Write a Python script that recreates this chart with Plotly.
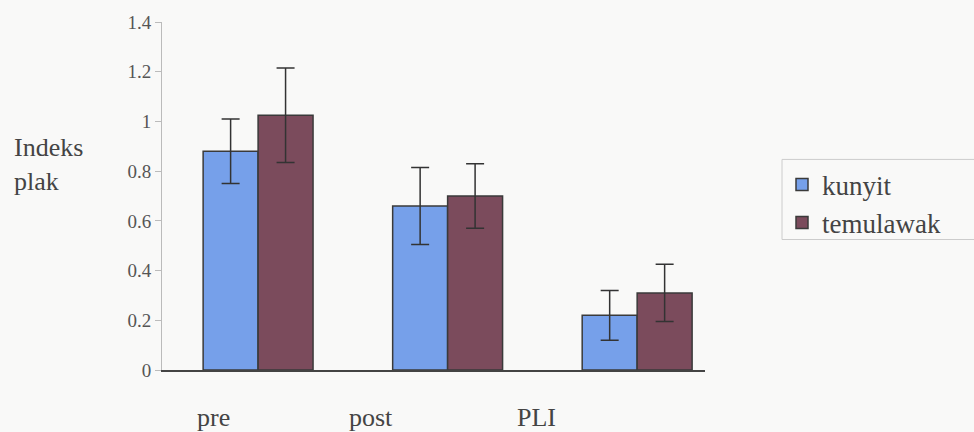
import plotly.graph_objects as go

categories = ["pre", "post", "PLI"]
kunyit = [0.88, 0.66, 0.22]
kunyit_err = [0.13, 0.155, 0.10]
temulawak = [1.025, 0.70, 0.31]
temulawak_err = [0.19, 0.13, 0.115]
y_ticks = [0, 0.2, 0.4, 0.6, 0.8, 1.0, 1.2, 1.4]
y_ticklabels = ["0", "0.2", "0.4", "0.6", "0.8", "1", "1.2", "1.4"]

FONT = "Liberation Serif"
W, H = 974, 432
L, R, T, B = 162, 269, 18, 62
pw = W - L - R
ph = H - T - B

def px_to_paper(px):
    return (px - L) / pw

def py_to_paper(py):
    return (H - B - py) / ph

label_px = [213, 371, 536]

fig = go.Figure()
fig.add_trace(go.Bar(
    name="kunyit", x=categories, y=kunyit,
    marker=dict(color="#76a0ea", line=dict(color="#3a3a3a", width=1.5)),
    error_y=dict(type="data", array=kunyit_err, color="#333333", thickness=1.5, width=9),
))
fig.add_trace(go.Bar(
    name="temulawak", x=categories, y=temulawak,
    marker=dict(color="#7b4b5c", line=dict(color="#3a3a3a", width=1.5)),
    error_y=dict(type="data", array=temulawak_err, color="#333333", thickness=1.5, width=9),
))

fig.update_layout(
    width=W, height=H,
    margin=dict(l=L, r=R, t=T, b=B),
    paper_bgcolor="#f9f9f8", plot_bgcolor="#f9f9f8",
    barmode="group", bargap=0.42, bargroupgap=0,
    font=dict(family=FONT, color="#444444"),
    showlegend=True,
    legend=dict(
        x=px_to_paper(782), y=py_to_paper(158), xanchor="left", yanchor="top",
        bgcolor="rgba(0,0,0,0)", borderwidth=0,
        font=dict(family=FONT, size=27, color="#444444"),
        tracegroupgap=0,
    ),
)
fig.add_shape(
    type="rect", xref="paper", yref="paper",
    x0=px_to_paper(782), x1=px_to_paper(980), y0=py_to_paper(238), y1=py_to_paper(157),
    line=dict(color="#cccccc", width=1), fillcolor="rgba(0,0,0,0)", layer="below",
)
fig.update_xaxes(
    range=[-0.507, 2.358], showticklabels=False, ticks="",
    showline=True, linecolor="#444444", linewidth=1.5, showgrid=False,
)
fig.update_yaxes(
    range=[0, 1.4], tickvals=y_ticks, ticktext=y_ticklabels,
    ticks="outside", ticklen=6, tickcolor="#bbbbbb",
    showline=True, linecolor="#bbbbbb", linewidth=1, showgrid=False, zeroline=False,
    tickfont=dict(family=FONT, size=19, color="#555555"),
)

for cat, px in zip(categories, label_px):
    fig.add_annotation(
        text=cat, xref="paper", yref="paper", x=px_to_paper(px), y=py_to_paper(418),
        showarrow=False, xanchor="center", yanchor="middle",
        font=dict(family=FONT, size=26, color="#444444"),
    )

fig.add_annotation(
    text="Indeks<br>plak", xref="paper", yref="paper",
    x=px_to_paper(12), y=py_to_paper(162), xanchor="left", yanchor="middle",
    align="left", showarrow=False,
    font=dict(family=FONT, size=26, color="#444444"),
)

fig.write_html("out.html", config={"displayModeBar": False},
               post_script="document.body.style.margin='0';")
